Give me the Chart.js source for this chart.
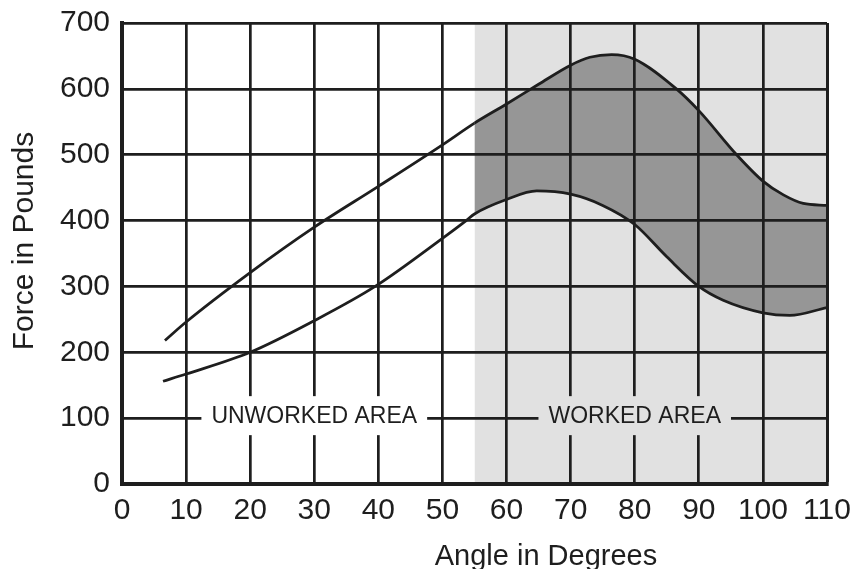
<!DOCTYPE html>
<html><head><meta charset="utf-8">
<script src="https://cdn.jsdelivr.net/npm/chart.js@4.4.1/dist/chart.umd.min.js"></script>
<style>html,body{margin:0;padding:0;background:#fff}</style>
</head><body>
<canvas id="c" width="857" height="569"></canvas>
<script>
// ---- data ----
const upperAngles = [6.7, 10, 20, 30, 40, 50, 55, 60, 65, 70, 73, 76.4, 80, 86.5, 90, 95.9, 100, 103.2, 106.3, 110];
const upperForce  = [218, 246, 321, 390, 452, 515, 548, 577, 607, 636, 648, 652, 645, 600, 567, 500, 460, 439, 426, 423];
const lowerAngles = [6.4, 10, 20, 30, 39.5, 50, 53.7, 55, 60, 64.7, 70, 75, 80, 85, 90, 93.8, 100, 104.2, 110];
const lowerForce  = [156, 167, 200, 248, 300, 373, 400, 410, 432, 445, 440, 423, 394, 345, 300, 279, 260, 256, 268];
const workedRange = [55, 110];
const forceMax = 700;
const xTickValues = [0, 10, 20, 30, 40, 50, 60, 70, 80, 90, 100, 110];
const yTickValues = [0, 100, 200, 300, 400, 500, 600, 700];
const areaLabels = ['UNWORKED AREA', 'WORKED AREA'];
const areaLabelAngles = [30, 80];
const areaLabelForce = 100;
const xTitle = 'Angle in Degrees';
const yTitle = 'Force in Pounds';

const INK = '#1e1e1e';
const DARK = '#969696';
const LIGHT = '#e1e1e1';
const FONT = '"Liberation Sans", Arial, sans-serif';

const pts = (xs, ys) => xs.map((v, i) => ({x: v, y: ys[i]}));

const annot = {
  id: 'annot',
  afterDraw(chart) {
    const {ctx, scales: {x, y}} = chart;
    ctx.save();
    ctx.font = '23px ' + FONT;
    ctx.textAlign = 'center';
    ctx.textBaseline = 'middle';
    areaLabels.forEach((t, i) => {
      const cx = x.getPixelForValue(areaLabelAngles[i]);
      const cy = y.getPixelForValue(areaLabelForce);
      const w = ctx.measureText(t).width + 20;
      ctx.fillStyle = areaLabelAngles[i] >= workedRange[0] ? LIGHT : '#ffffff';
      ctx.fillRect(cx - w / 2, cy - 22, w, 39);
      ctx.fillStyle = INK;
      ctx.fillText(t, cx, cy - 1);
    });
    ctx.font = '29px ' + FONT;
    ctx.textBaseline = 'alphabetic';
    ctx.fillText(xTitle, 546, 565);
    ctx.translate(33, 241);
    ctx.rotate(-Math.PI / 2);
    ctx.font = '30px ' + FONT;
    ctx.fillText(yTitle, 0, 0);
    ctx.restore();
  }
};

new Chart(document.getElementById('c'), {
  type: 'line',
  data: {
    datasets: [
      {
        label: 'upper',
        data: pts(upperAngles, upperForce),
        borderColor: INK,
        borderWidth: 2.8,
        pointRadius: 0,
        cubicInterpolationMode: 'monotone',
        fill: '+1',
        backgroundColor: DARK,
        segment: {
          backgroundColor: c => c.p0.parsed.x >= workedRange[0] ? DARK : 'rgba(0,0,0,0)'
        },
        order: 2
      },
      {
        label: 'lower',
        data: pts(lowerAngles, lowerForce),
        borderColor: INK,
        borderWidth: 2.8,
        pointRadius: 0,
        cubicInterpolationMode: 'monotone',
        fill: false,
        order: 1
      },
      {
        label: 'worked',
        data: pts(workedRange, [forceMax, forceMax]),
        borderWidth: 0,
        pointRadius: 0,
        fill: 'origin',
        backgroundColor: LIGHT,
        order: 10
      }
    ]
  },
  options: {
    responsive: false,
    animation: false,
    events: [],
    layout: {padding: {top: 23, right: 30, left: 0, bottom: 0}},
    plugins: {legend: {display: false}, tooltip: {enabled: false}, title: {display: false}},
    scales: {
      x: {
        type: 'linear',
        min: 0, max: 110,
        afterBuildTicks: s => { s.ticks = xTickValues.map(v => ({value: v})); },
        afterFit: s => { s.height = 85; s.paddingLeft = 0; s.paddingRight = 0; },
        ticks: {autoSkip: false, maxRotation: 0, padding: 9, color: INK, font: {family: FONT, size: 30}},
        grid: {z: 1, color: INK, drawTicks: false, lineWidth: c => (c.tick && c.tick.value === 110) ? 3 : 2.7},
        border: {z: 1, display: true, color: INK, width: 4}
      },
      y: {
        min: 0, max: 700,
        afterBuildTicks: s => { s.ticks = yTickValues.map(v => ({value: v})); },
        afterFit: s => { s.width = 122; s.paddingTop = 0; s.paddingBottom = 0; },
        ticks: {padding: 12, color: INK, font: {family: FONT, size: 30}},
        grid: {z: 1, color: INK, drawTicks: false, lineWidth: 2.7},
        border: {z: 1, display: true, color: INK, width: 4}
      }
    }
  },
  plugins: [annot]
});
</script>
</body></html>
